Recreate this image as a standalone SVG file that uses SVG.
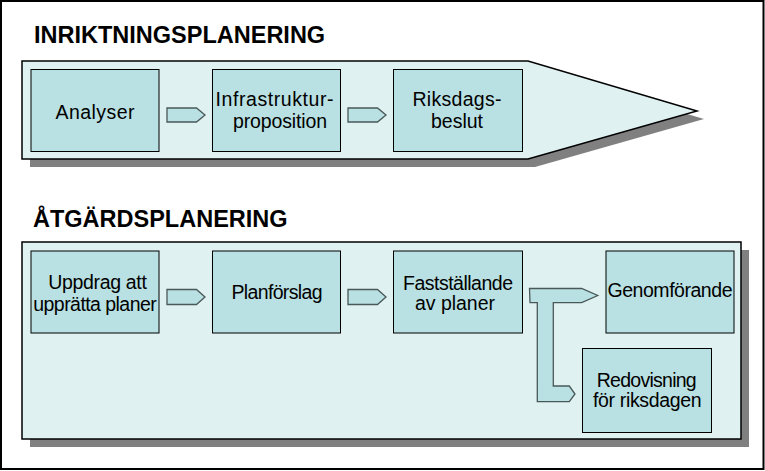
<svg xmlns="http://www.w3.org/2000/svg" width="765" height="471" viewBox="0 0 765 471">
<style>
.title{font-family:"Liberation Sans",Arial,sans-serif;font-weight:bold;font-size:23.5px;fill:#000}
.lbl{font-family:"Liberation Sans",Arial,sans-serif;font-size:19.5px;fill:#000;text-anchor:middle}
.panel{fill:#DFF1F1;stroke:#000;stroke-width:1.5}
.shadow{fill:#808080}
.box{fill:#B9E0E2;stroke:#000;stroke-width:1}
.arr{fill:#B9E0E2;stroke:#4A5858;stroke-width:1.3;stroke-linejoin:miter}
</style>
<rect x="0" y="0" width="765" height="471" fill="#fff"/>
<rect x="1" y="1" width="762.5" height="468" fill="none" stroke="#000" stroke-width="2"/>

<g id="inriktning">
<text class="title" x="34" y="43.3">INRIKTNINGSPLANERING</text>
<polygon class="shadow" points="30,69 535,69 704,119 535,167 30,167"/>
<polygon class="panel" points="22,61 528,61 697,111 528,159 22,159"/>
</g>
<g id="atgard">
<text class="title" x="33" y="226.7">ÅTGÄRDSPLANERING</text>
<rect class="shadow" x="30" y="250" width="719" height="197"/>
<rect class="panel" x="22" y="242" width="719" height="197"/>
</g>

<g id="analyser"><rect class="box" x="31" y="69.5" width="128" height="82"/><text class="lbl" x="95" y="119" textLength="79">Analyser</text></g>
<g id="infrastrukturproposition"><rect class="box" x="212.5" y="69.5" width="128" height="82"/><text class="lbl" x="274.5" y="106" textLength="118">Infrastruktur-</text><text class="lbl" x="280" y="128" textLength="94">proposition</text></g>
<g id="riksdagsbeslut"><rect class="box" x="393.5" y="69.5" width="129" height="82"/><text class="lbl" x="457" y="106" textLength="89">Riksdags-</text><text class="lbl" x="457" y="128">beslut</text></g>

<g id="uppdrag"><rect class="box" x="31" y="251" width="128" height="82"/><text class="lbl" x="97.5" y="289" textLength="98.7">Uppdrag att</text><text class="lbl" x="95" y="311" textLength="123.5">upprätta planer</text></g>
<g id="planforslag"><rect class="box" x="212.5" y="251" width="128" height="82"/><text class="lbl" x="277" y="299" textLength="91">Planförslag</text></g>
<g id="faststallande"><rect class="box" x="393.5" y="251" width="129" height="82"/><text class="lbl" x="458" y="290" textLength="110">Fastställande</text><text class="lbl" x="455" y="310" textLength="80">av planer</text></g>
<g id="genomforande"><rect class="box" x="606" y="251" width="128" height="82"/><text class="lbl" x="670" y="297" textLength="125">Genomförande</text></g>
<g id="redovisning"><rect class="box" x="582.5" y="348.5" width="129" height="84"/><text class="lbl" x="646.7" y="386.7" textLength="100">Redovisning</text><text class="lbl" x="647.3" y="406.7" textLength="108.7">för riksdagen</text></g>

<g id="connectors">
<polygon class="arr" points="167,108 196.5,108 205,115 196.5,122 167,122"/>
<polygon class="arr" points="348,108 377.5,108 386,115 377.5,122 348,122"/>
<polygon class="arr" points="167,289.5 196.5,289.5 205,297 196.5,304.5 167,304.5"/>
<polygon class="arr" points="348,289.5 377.5,289.5 386,297 377.5,304.5 348,304.5"/>
<polygon class="arr" points="529.5,288.5 581.7,288.5 597.7,295.5 581.7,302.7 553.3,302.7 553.3,386 569.3,386 575,394 569.3,401.7 537.3,401.7 537.3,302.7 530,302.7"/>
</g>
</svg>
